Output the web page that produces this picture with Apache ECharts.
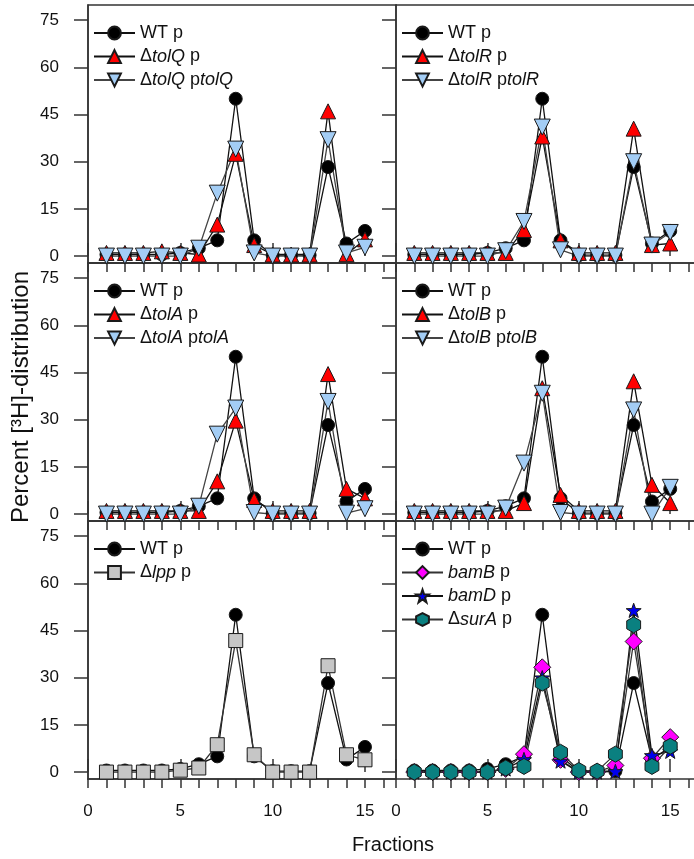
<!DOCTYPE html>
<html>
<head>
<meta charset="utf-8">
<script src="https://cdn.jsdelivr.net/npm/echarts@6/dist/echarts.min.js"></script>
<style>
  html, body { margin: 0; padding: 0; background: #fff; }
  #chart { width: 694px; height: 859px; }
</style>
</head>
<body>
<div id="chart"></div>
<script>
// Gradient fractions and percent [3H]-distribution per strain
const fractions = [1, 2, 3, 4, 5, 6, 7, 8, 9, 10, 11, 12, 13, 14, 15];
const wtP       = [0.5, 0.5, 0.5, 0.5, 1, 2.5, 5, 50, 5, 0.3, 0.3, 0.3, 28.3, 4, 8];
const tolQP     = [1, 1, 1, 1.5, 1, 0.5, 10, 32.5, 3.5, 0.5, 0.5, 0.5, 46, 0.6, 5.3];
const tolQPtolQ = [0, 0, 0, 0, 0, 2.5, 20, 34, 1, 0, 0, 0, 37, 1, 2.8];
const tolRP     = [1, 1, 1, 1, 1, 1, 8.3, 38, 5, 1, 1, 1, 40.5, 3.5, 4];
const tolRPtolR = [0, 0, 0, 0, 0, 1.7, 11, 41, 2, 0, 0, 0, 30, 3.5, 7.5];
const tolAP     = [1, 1, 1, 1, 1, 1, 10.4, 29.7, 4.5, 1, 1, 1, 44.5, 8, 5];
const tolAPtolA = [0, 0, 0, 0, 0, 2.5, 25.4, 33.7, 0.5, 0, 0, 0, 35.8, 0.3, 1.7];
const tolBP     = [1, 1, 1, 1, 1, 1, 3.5, 40, 6.1, 1, 1, 1, 42.2, 9.3, 3.5];
const tolBPtolB = [0, 0, 0, 0, 0, 1.9, 16.2, 38.4, 0.5, 0, 0, 0, 33.1, 0, 8.5];
const lppP      = [0, 0, 0, 0, 0.6, 1.3, 8.7, 41.8, 5.5, 0, 0, 0, 33.8, 5.5, 3.9];
const bamBP     = [0, 0, 0, 0, 0, 1, 5.7, 33.3, 3.9, 0, 0, 2.1, 41.5, 4.4, 11.1];
const bamDP     = [0, 0, 0, 0, 0, 1, 4, 30, 3.5, 0, 0, 0.2, 51.4, 5.3, 6.6];
const surAP     = [0, 0, 0, 0, 0, 1.3, 1.8, 28.3, 6.3, 0.5, 0.3, 5.7, 46.8, 1.8, 8.2];

// Axis ticks and labels
const yTickValues = [0, 15, 30, 45, 60, 75];
const xLabelValues = [0, 5, 10, 15];
const xMinorTickValues = [0, 1, 2, 3, 4, 5, 6, 7, 8, 9, 10, 11, 12, 13, 14, 15, 16];

const FONT = '"Liberation Sans", Arial, sans-serif';
const AXIS = '#333';

// Marker styles
const HEX = 'path://M0,-10 L8.66,-5 L8.66,5 L0,10 L-8.66,5 L-8.66,-5 Z';
const STAR = 'path://M0,-10 L2.35,-3.24 L9.51,-3.09 L3.8,1.24 L5.88,8.09 L0,4 L-5.88,8.09 L-3.8,1.24 L-9.51,-3.09 L-2.35,-3.24 Z';
const sWT   = { symbol: 'circle', color: '#000000', size: 13, rotate: 0, line: '#111' };
const sDel  = { symbol: 'triangle', color: '#ff0000', size: 15, rotate: 0, line: '#111' };
const sComp = { symbol: 'triangle', color: '#a3cdf5', size: 16, rotate: 180, line: '#444' };
const sLpp  = { symbol: 'rect', color: '#c6c6c6', size: 14, rotate: 0, line: '#333' };
const sBamB = { symbol: 'diamond', color: '#ff00ff', size: 17, rotate: 0, line: '#333' };
const sBamD = { symbol: STAR, color: '#0000ee', size: 15, rotate: 0, line: '#111' };
const sSurA = { symbol: HEX, color: '#0a8080', size: 16, rotate: 0, line: '#333' };

const panels = [
  { col: 0, row: 0, series: [['WT p', wtP, sWT], ['ΔtolQ p', tolQP, sDel], ['ΔtolQ ptolQ', tolQPtolQ, sComp]] },
  { col: 1, row: 0, series: [['WT p', wtP, sWT], ['ΔtolR p', tolRP, sDel], ['ΔtolR ptolR', tolRPtolR, sComp]] },
  { col: 0, row: 1, series: [['WT p', wtP, sWT], ['ΔtolA p', tolAP, sDel], ['ΔtolA ptolA', tolAPtolA, sComp]] },
  { col: 1, row: 1, series: [['WT p', wtP, sWT], ['ΔtolB p', tolBP, sDel], ['ΔtolB ptolB', tolBPtolB, sComp]] },
  { col: 0, row: 2, series: [['WT p', wtP, sWT], ['Δlpp p', lppP, sLpp]] },
  { col: 1, row: 2, series: [['WT p', wtP, sWT], ['bamB p', bamBP, sBamB], ['bamD p', bamDP, sBamD], ['ΔsurA p', surAP, sSurA]] }
];

// Panel geometry: the right column is cut at the page edge, so it has no right frame
const colLeft = [88, 396];
const colWidth = [308, 298];
const colXMax = [16.68, 16.3];
const rowTop = [5, 263, 521];
const panelH = 258;

const grid = [], xAxis = [], yAxis = [], legend = [], series = [];
let xCount = 0;

panels.forEach((p, g) => {
  const left = colLeft[p.col];
  const top = rowTop[p.row];
  const xMax = colXMax[p.col];
  const isBottom = p.row === 2;
  const isLeft = p.col === 0;
  grid.push({
    left: left, top: top, width: colWidth[p.col], height: panelH,
    show: isLeft, borderColor: AXIS, borderWidth: 1.5, backgroundColor: 'transparent'
  });
  const mainX = xCount;
  // fraction axis with a tick at every fraction
  xAxis.push({
    type: 'value', gridIndex: g, min: 0, max: xMax,
    axisLine: { show: true, onZero: false, lineStyle: { color: AXIS, width: 1.5 } },
    axisTick: { show: true, inside: false, length: 9, customValues: xMinorTickValues, lineStyle: { color: AXIS, width: 1.5 } },
    axisLabel: { show: isBottom, customValues: xLabelValues, margin: 24, fontSize: 17, color: '#111', fontFamily: FONT },
    splitLine: { show: false }
  });
  // longer ticks at every fifth fraction
  xAxis.push({
    type: 'value', gridIndex: g, min: 0, max: xMax,
    axisLine: { show: false },
    axisTick: { show: true, inside: false, length: 13, customValues: xLabelValues, lineStyle: { color: AXIS, width: 1.5 } },
    axisLabel: { show: false },
    splitLine: { show: false }
  });
  xCount += 2;
  if (!isLeft) {
    // top frame line of the right column
    xAxis.push({
      type: 'value', gridIndex: g, min: 0, max: xMax, position: 'top',
      axisLine: { show: true, onZero: false, lineStyle: { color: AXIS, width: 1.5 } },
      axisTick: { show: false }, axisLabel: { show: false }, splitLine: { show: false }
    });
    xCount += 1;
  }
  yAxis.push({
    type: 'value', gridIndex: g, min: -2.2, max: 79.8,
    axisLine: { show: true, onZero: false, lineStyle: { color: AXIS, width: 1.5 } },
    axisTick: { show: true, inside: false, length: 14, customValues: yTickValues, lineStyle: { color: AXIS, width: 1.5 } },
    axisLabel: { show: isLeft, customValues: yTickValues, margin: 29, fontSize: 17, color: '#111', fontFamily: FONT },
    splitLine: { show: false }
  });
  legend.push({
    orient: 'vertical', left: left + 5, top: top + 19, padding: 0,
    itemWidth: 41, itemHeight: 16, itemGap: 5.5,
    data: p.series.map(s => s[0]),
    formatter: name => name.replace(/(tol[QRAB]|lpp|bam[BD]|surA)/g, '{i|$1}'),
    textStyle: {
      fontSize: 18, color: '#111', fontFamily: FONT, lineHeight: 17,
      rich: { i: { fontStyle: 'italic', fontSize: 18, fontFamily: FONT, color: '#111' } }
    },
    selectedMode: false
  });
  p.series.forEach(([name, values, st]) => {
    series.push({
      type: 'line', name: name,
      xAxisIndex: mainX, yAxisIndex: g,
      data: fractions.map((f, i) => [f, values[i]]),
      symbol: st.symbol, symbolSize: st.size, symbolRotate: st.rotate, symbolKeepAspect: true,
      showAllSymbol: true,
      lineStyle: { color: st.line, width: 1.3 },
      itemStyle: { color: st.color, borderColor: '#1a1a1a', borderWidth: 1 },
      emphasis: { disabled: true },
      animation: false
    });
  });
});

const chart = echarts.init(document.getElementById('chart'), null, { renderer: 'canvas' });
chart.setOption({
  backgroundColor: '#ffffff',
  animation: false,
  grid, xAxis, yAxis, legend, series,
  graphic: [
    {
      type: 'text', x: 393, y: 835,
      style: { text: 'Fractions', fontSize: 20, fontFamily: FONT, fill: '#111', align: 'center', verticalAlign: 'top' }
    },
    {
      type: 'text', x: 9, y: 397, rotation: Math.PI / 2,
      style: { text: 'Percent [³H]-distribution', fontSize: 24, fontFamily: FONT, fill: '#111', align: 'center', verticalAlign: 'top' }
    }
  ]
});
</script>
</body>
</html>
